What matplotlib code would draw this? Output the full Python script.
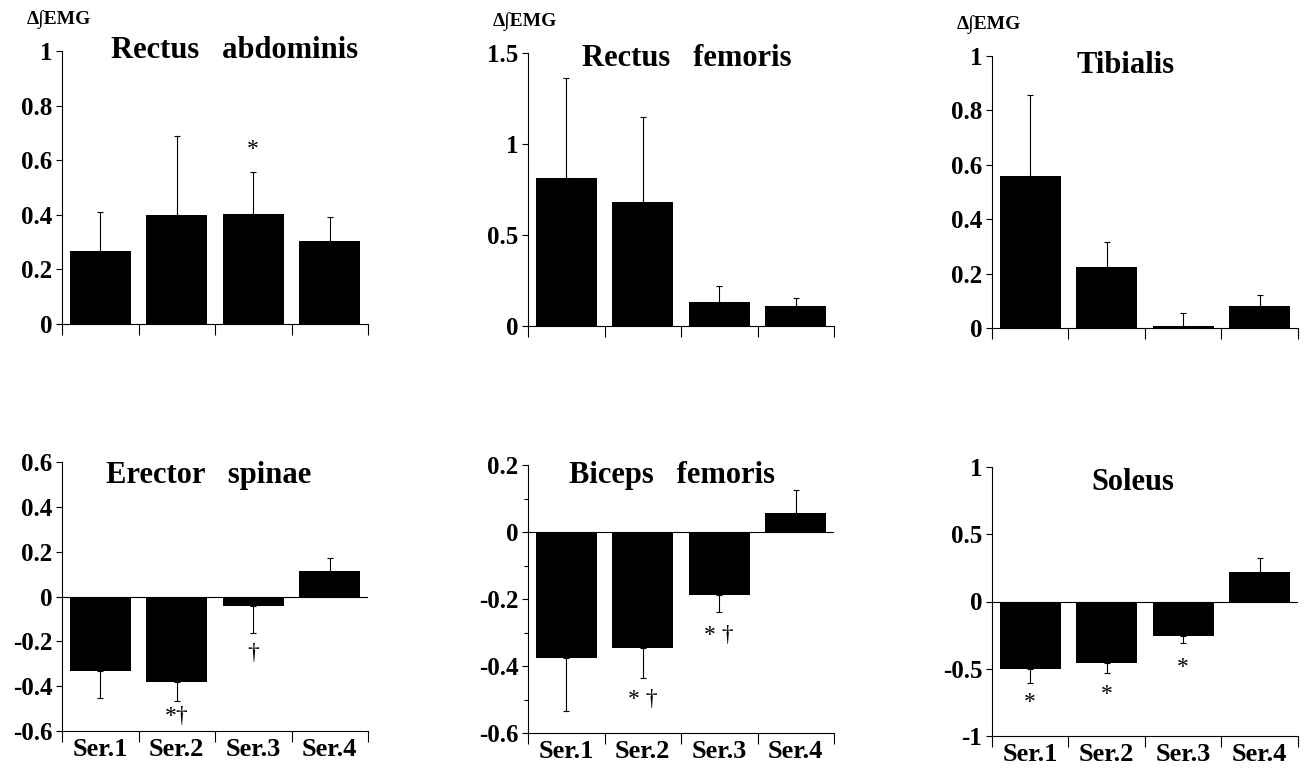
import matplotlib
matplotlib.use('Agg')
import matplotlib.pyplot as plt
from matplotlib.ticker import MultipleLocator

plt.rcParams['font.family'] = ['Liberation Serif', 'DejaVu Serif']
plt.rcParams['font.weight'] = 'bold'
plt.rcParams['axes.unicode_minus'] = False

# Data
series = ['Ser.1', 'Ser.2', 'Ser.3', 'Ser.4']
muscles = ['Rectus   abdominis', 'Rectus   femoris', 'Tibialis',
           'Erector   spinae', 'Biceps   femoris', 'Soleus']

rectus_abd = [0.267, 0.398, 0.404, 0.303]
rectus_abd_err = [0.142, 0.289, 0.152, 0.089]

rectus_fem = [0.814, 0.682, 0.134, 0.110]
rectus_fem_err = [0.551, 0.467, 0.087, 0.042]

tibialis = [0.557, 0.226, 0.006, 0.082]
tibialis_err = [0.300, 0.089, 0.049, 0.040]

erector = [-0.333, -0.383, -0.041, 0.112]
erector_err = [0.121, 0.083, 0.121, 0.059]

biceps_fem = [-0.376, -0.345, -0.189, 0.057]
biceps_fem_err = [0.158, 0.090, 0.049, 0.069]

soleus = [-0.504, -0.459, -0.256, 0.223]
soleus_err = [0.099, 0.070, 0.054, 0.100]

values = [rectus_abd, rectus_fem, tibialis, erector, biceps_fem, soleus]
errors = [rectus_abd_err, rectus_fem_err, tibialis_err, erector_err, biceps_fem_err, soleus_err]

# y ranges and tick labels
y_limits = [(0, 1), (0, 1.5), (0, 1), (-0.6, 0.6), (-0.6, 0.2), (-1, 1)]
y_ticks = [
    ['0', '0.2', '0.4', '0.6', '0.8', '1'],
    ['0', '0.5', '1', '1.5'],
    ['0', '0.2', '0.4', '0.6', '0.8', '1'],
    ['-0.6', '-0.4', '-0.2', '0', '0.2', '0.4', '0.6'],
    ['-0.6', '-0.4', '-0.2', '0', '0.2'],
    ['-1', '-0.5', '0', '0.5', '1'],
]

# significance marks: (panel, bar, y, text)
marks = [
    (0, 2, 0.64, '*'),
    (3, 1, -0.535, '*\u2020'),
    (3, 2, -0.255, '\u2020'),
    (4, 1, -0.50, '* \u2020'),
    (4, 2, -0.31, '* \u2020'),
    (5, 0, -0.75, '*'),
    (5, 1, -0.695, '*'),
    (5, 2, -0.49, '*'),
]

# layout in pixels: left, y of bottom, height
W, H = 1307, 769
boxes = [(62, 324, 273), (528, 326, 273), (992, 328, 272),
         (62, 731, 269), (528, 733, 268), (992, 736, 269)]
title_pos = [(0.565, 1.0), (0.52, 0.98), (0.435, 0.965),
             (0.48, 0.95), (0.47, 0.96), (0.46, 0.944)]

fig = plt.figure(figsize=(W / 100, H / 100), dpi=100)

for i in range(6):
    left, bottom, height = boxes[i]
    ax = fig.add_axes([left / W, 1 - bottom / H, 306 / W, height / H])
    x = range(len(series))
    vals = values[i]
    errs = errors[i]
    ax.bar(x, vals, width=0.8, color='black', zorder=2)
    lo = [e if v < 0 else 0 for v, e in zip(vals, errs)]
    hi = [e if v >= 0 else 0 for v, e in zip(vals, errs)]
    ax.errorbar(x, vals, yerr=[lo, hi], fmt='none', ecolor='black',
                elinewidth=0.8, capsize=2.5, capthick=0.8, zorder=3)

    ax.set_xlim(-0.5, 3.5)
    ax.set_ylim(*y_limits[i])
    ax.set_yticks([float(t) for t in y_ticks[i]])
    ax.set_yticklabels(y_ticks[i], fontsize=18, fontweight='bold')
    ax.set_xticks([-0.5, 0.5, 1.5, 2.5, 3.5])
    ax.set_xticklabels([])
    ax.tick_params(axis='y', direction='out', length=4, width=0.8, pad=3)
    ax.tick_params(axis='x', direction='out', length=8, width=0.8)
    if i == 4:
        ax.yaxis.set_minor_locator(MultipleLocator(0.1))
        ax.tick_params(axis='y', which='minor', length=3, width=0.8)

    for s in ['top', 'right']:
        ax.spines[s].set_visible(False)
    for s in ['left', 'bottom']:
        ax.spines[s].set_linewidth(0.8)

    if i >= 3:
        ax.axhline(0, color='black', lw=0.8, zorder=1)
        ax.set_xticks(list(x), minor=True)
        ax.set_xticklabels(series, minor=True, fontsize=19, fontweight='bold')
        ax.tick_params(axis='x', which='minor', length=0, pad=5)
    else:
        fig.text((left - 35) / W, 1 - (bottom - height - 22) / H, '\u0394\u222bEMG',
                 fontsize=14, fontweight='bold', ha='left', va='bottom')

    tx, ty = title_pos[i]
    ax.text(tx, ty, muscles[i], transform=ax.transAxes, ha='center', va='center',
            fontsize=22, fontweight='bold')

    for p, b, y, t in marks:
        if p == i:
            ax.text(b, y, t, ha='center', va='center', fontsize=17, fontweight='normal')

fig.savefig('out.png', dpi=100)
